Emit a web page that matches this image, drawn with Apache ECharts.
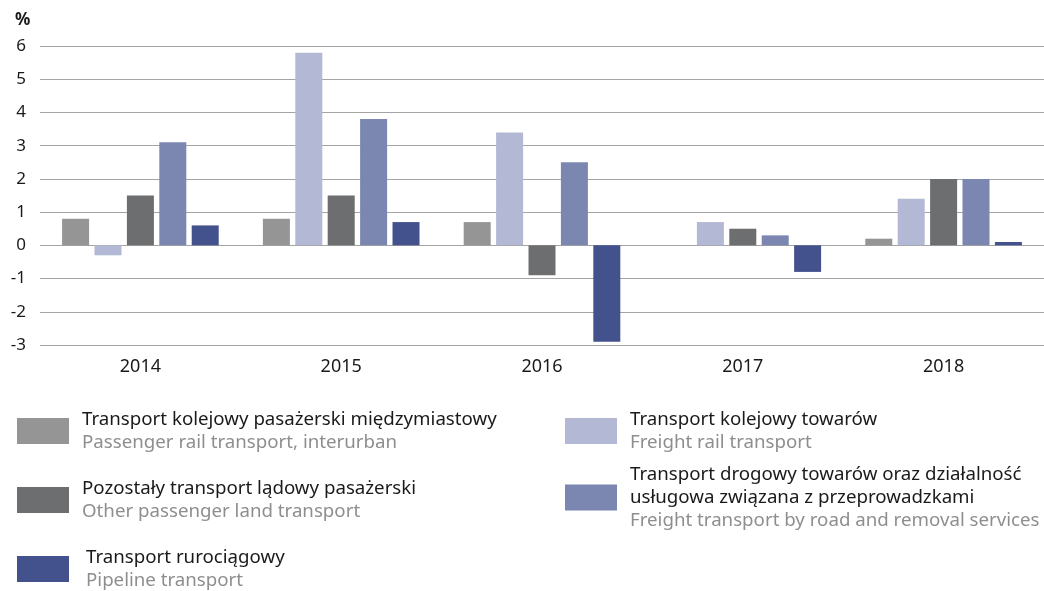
<!DOCTYPE html>
<html>
<head>
<meta charset="utf-8">
<script src="https://cdn.jsdelivr.net/npm/echarts@6/dist/echarts.min.js"></script>
<style>
  html, body { margin: 0; padding: 0; background: #fff; }
  #chart { width: 1044px; height: 591px; }
</style>
</head>
<body>
<div id="chart"></div>
<script>
var years = ['2014', '2015', '2016', '2017', '2018']

var namesPl = [
    'Transport kolejowy pasażerski międzymiastowy',
    'Transport kolejowy towarów',
    'Pozostały transport lądowy pasażerski',
    'Transport drogowy towarów oraz działalność\nusługowa związana z przeprowadzkami',
    'Transport rurociągowy'
]
var namesEn = [
    'Passenger rail transport, interurban',
    'Freight rail transport',
    'Other passenger land transport',
    'Freight transport by road and removal services',
    'Pipeline transport'
]

var passengerRail = [0.8, 0.8, 0.7, 0, 0.2]
var freightRail = [-0.3, 5.8, 3.4, 0.7, 1.4]
var otherPassenger = [1.5, 1.5, -0.9, 0.5, 2.0]
var roadFreight = [3.1, 3.8, 2.5, 0.3, 2.0]
var pipeline = [0.6, 0.7, -2.9, -0.8, 0.1]

var values = [passengerRail, freightRail, otherPassenger, roadFreight, pipeline]
var colors = ['#959595', '#b3b9d4', '#6d6e70', '#7b87b0', '#43528c']

// legend placement (one legend block per series)
var legendPos = [
    { left: 17, top: 410, gap: 8 },
    { left: 565, top: 410, gap: 8 },
    { left: 17, top: 479, gap: 8 },
    { left: 565, top: 465, gap: 8 },
    { left: 17, top: 548, gap: 12 }
]

var chart = echarts.init(document.getElementById('chart'))

var legends = namesPl.map(function (name, i) {
    return {
        data: [name],
        left: legendPos[i].left,
        top: legendPos[i].top,
        padding: 0,
        itemWidth: 52,
        itemHeight: 26,
        selectedMode: false,
        icon: 'rect',
        formatter: function (n) {
            var idx = namesPl.indexOf(n)
            var pl = n.split('\n').map(function (s) { return '{pl|' + s + '}' }).join('\n')
            return pl + '\n{en|' + namesEn[idx] + '}'
        },
        textStyle: {
            padding: [0, 0, 0, legendPos[i].gap],
            rich: {
                pl: { fontFamily: 'Noto Sans', fontSize: 18.7, color: '#1a1a1a', lineHeight: 23 },
                en: { fontFamily: 'Noto Sans', fontSize: 18.7, color: '#8e8e8e', lineHeight: 23 }
            }
        }
    }
})

var option = {
    animation: false,
    backgroundColor: '#ffffff',
    title: {
        text: '%',
        left: 10,
        top: 7,
        textStyle: { fontFamily: 'Noto Sans', fontSize: 17, fontWeight: 'bold', color: '#1a1a1a' }
    },
    legend: legends,
    grid: {
        left: 40,
        right: 0,
        top: 46,
        bottom: 246,
        containLabel: false
    },
    xAxis: {
        type: 'category',
        data: years,
        axisLine: { show: false },
        axisTick: { show: false },
        axisLabel: {
            margin: 13,
            fontFamily: 'Noto Sans',
            fontSize: 18,
            color: '#1a1a1a'
        }
    },
    yAxis: {
        type: 'value',
        min: -3,
        max: 6,
        interval: 1,
        axisLine: { show: false },
        axisTick: { show: false },
        splitLine: { lineStyle: { color: '#a4a4a4', width: 1.2 } },
        axisLabel: {
            margin: 14,
            fontFamily: 'Noto Sans',
            fontSize: 17,
            color: '#1a1a1a'
        }
    },
    series: values.map(function (v, i) {
        return {
            name: namesPl[i],
            type: 'bar',
            data: v,
            barGap: '20%',
            barCategoryGap: '22%',
            itemStyle: { color: colors[i] }
        }
    })
}

chart.setOption(option)
</script>
</body>
</html>
